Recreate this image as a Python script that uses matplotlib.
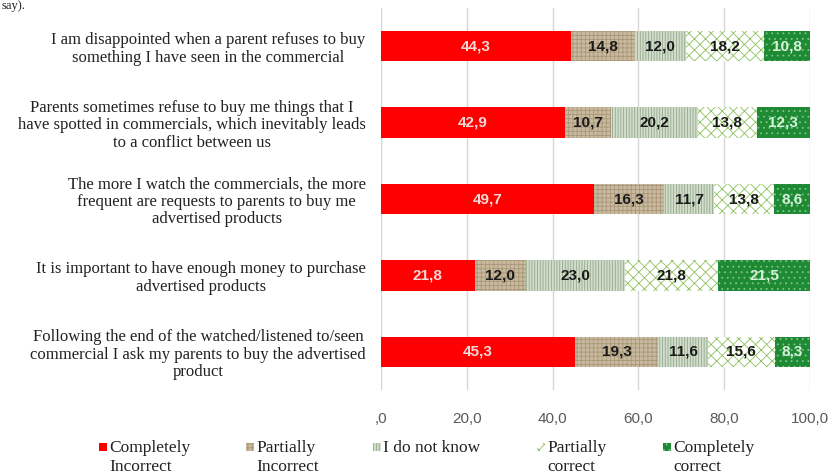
import matplotlib
matplotlib.use("Agg")
import matplotlib.pyplot as plt
from matplotlib.patches import Rectangle
import numpy as np

# statements, top to bottom
statements = [
    "I am disappointed when a parent refuses to buy\nsomething I have seen in the commercial",
    "Parents sometimes refuse to buy me things that I\nhave spotted in commercials, which inevitably leads\nto a conflict between us",
    "The more I watch the commercials, the more\nfrequent are requests to parents to buy me\nadvertised products",
    "It is important to have enough money to purchase\nadvertised products",
    "Following the end of the watched/listened to/seen\ncommercial I ask my parents to buy the advertised\nproduct",
]
categories = ["Completely\nIncorrect", "Partially\nIncorrect", "I do not know",
              "Partially\ncorrect", "Completely\ncorrect"]

completely_incorrect = [44.3, 42.9, 49.7, 21.8, 45.3]
partially_incorrect = [14.8, 10.7, 16.3, 12.0, 19.3]
do_not_know = [12.0, 20.2, 11.7, 23.0, 11.6]
partially_correct = [18.2, 13.8, 13.8, 21.8, 15.6]
completely_correct = [10.8, 12.3, 8.6, 21.5, 8.3]

ticks = [0, 20, 40, 60, 80, 100]
tick_labels = [",0", "20,0", "40,0", "60,0", "80,0", "100,0"]

series = [completely_incorrect, partially_incorrect, do_not_know,
          partially_correct, completely_correct]
# face, hatch, hatch colour, label colour
styles = [
    ("#FF0000", None, "#FF0000", "#F6D8D8"),
    ("#C9BA9E", "++++", "#A8977A", "#1A1A1A"),
    ("#D2DDCB", "||||||", "#94A88C", "#1A1A1A"),
    ("#FFFFFF", "xxx", "#8DC15E", "#1A1A1A"),
    ("#1F8A34", "...", "#7CC48A", "#D8F2DA"),
]

plt.rcParams['hatch.linewidth'] = 0.6
serif = ["Liberation Serif", "DejaVu Serif"]
narrow = ["Liberation Sans Narrow", "Liberation Sans", "DejaVu Sans"]
W, H = 832, 475

fig = plt.figure(figsize=(8.32, 4.75), dpi=100)
ax = fig.add_axes([381 / W, 1 - 390 / H, 429 / W, 382 / H])

y = np.arange(len(statements))
left = np.zeros(len(statements))
for vals, (fc, hatch, hc, tc) in zip(series, styles):
    vals = np.array(vals)
    ax.barh(y, vals, left=left, height=0.4, color=fc, edgecolor=hc,
            hatch=hatch, linewidth=0, zorder=3)
    for yi, l, v in zip(y, left, vals):
        ax.text(l + v / 2, yi, f"{v:.1f}".replace(".", ","), ha="center",
                va="center", fontsize=11, fontweight="bold", color=tc,
                family=narrow, zorder=4)
    left += vals

ax.set_xlim(0, 100)
ax.set_ylim(4.5, -0.5)
ax.set_xticks(ticks)
ax.set_xticklabels(tick_labels, family=["Liberation Sans", "DejaVu Sans"],
                   fontsize=11, color="#595959")
ax.set_yticks(y)
ax.set_yticklabels(statements, family=serif, fontsize=12, color="#222222",
                   multialignment="center", linespacing=1.12)
ax.tick_params(axis="x", length=0, pad=16)
ax.tick_params(axis="y", length=0, pad=11)
ax.grid(True, axis="x", color="#D6D6D6", linewidth=1, zorder=0)
for s in ax.spines.values():
    s.set_visible(False)

# text from the page above the chart
fig.text(0.002, 1.0, "say).", family=serif, fontsize=9, va="top",
         color="#222222")

# legend drawn by hand so the swatch sits on the first line
legend_x = [99, 246, 373, 537, 663]
for x, lab, (fc, hatch, hc, tc) in zip(legend_x, categories, styles):
    fig.patches.append(Rectangle((x / W, 1 - 451 / H), 8 / W, 8 / H,
                                 transform=fig.transFigure, facecolor=fc,
                                 edgecolor=hc, hatch=hatch, linewidth=0))
    fig.text((x + 10) / W, 1 - 440 / H, lab, family=serif, fontsize=12.5,
             va="top", ha="left", linespacing=1.25, color="#222222")

fig.savefig("out.png", dpi=100, facecolor="white")
